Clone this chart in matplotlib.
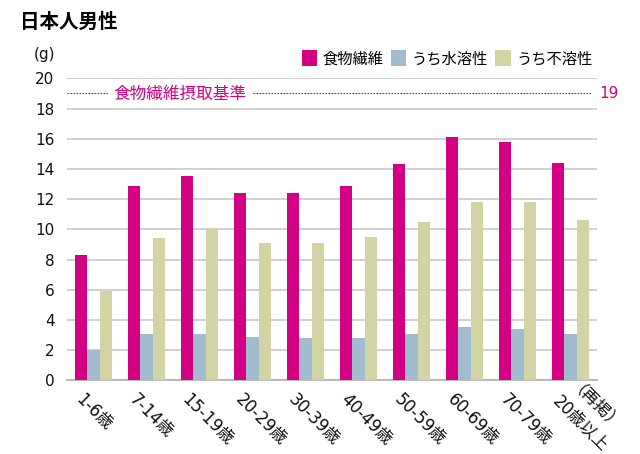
import matplotlib
matplotlib.use("Agg")
import matplotlib.pyplot as plt
import matplotlib.transforms as mtransforms
import numpy as np
from matplotlib.patches import Patch

plt.rcParams['font.family'] = ['DejaVu Sans', 'Noto Sans CJK JP']

categories = ['1-6歳', '7-14歳', '15-19歳', '20-29歳', '30-39歳', '40-49歳',
              '50-59歳', '60-69歳', '70-79歳', '（再掲）\n20歳以上']
total_fiber = [8.3, 12.9, 13.5, 12.4, 12.4, 12.9, 14.3, 16.1, 15.8, 14.4]
soluble = [2.0, 3.1, 3.1, 2.9, 2.8, 2.8, 3.1, 3.5, 3.4, 3.1]
insoluble = [5.9, 9.4, 10.0, 9.1, 9.1, 9.5, 10.5, 11.8, 11.8, 10.6]
series_names = ['食物繊維', 'うち水溶性', 'うち不溶性']
target_value = 19
target_label = '食物繊維摂取基準'
yticks = [0, 2, 4, 6, 8, 10, 12, 14, 16, 18, 20]

colors = ['#D40083', '#A2BCCF', '#D3D4A6']
magenta = colors[0]

fig = plt.figure(figsize=(6.4, 4.54), dpi=100)
ax = fig.add_axes([0.1047, 0.1623, 0.8281, 0.6652])

x = np.arange(len(categories))
w = 0.236
for i, (vals, c) in enumerate(zip([total_fiber, soluble, insoluble], colors)):
    ax.bar(x + (i - 1) * w, vals, width=w, color=c, zorder=3, linewidth=0)

ax.set_xlim(-0.5, len(categories) - 0.5)
ax.set_ylim(0, 20)
ax.set_yticks(yticks)
ax.set_yticklabels([str(v) for v in yticks], fontsize=11)
ax.yaxis.grid(True, color='#C8C8C8', linewidth=1.2, zorder=0)
ax.set_axisbelow(True)
for s in ['top', 'right', 'left']:
    ax.spines[s].set_visible(False)
ax.spines['bottom'].set_color('#B0B0B0')
ax.spines['bottom'].set_linewidth(1.2)
ax.tick_params(axis='y', length=0, pad=9, colors='#111111')
ax.tick_params(axis='x', length=0)

ax.set_xticks(x)
ax.set_xticklabels(categories, rotation=-45, ha='left', va='top',
                   rotation_mode='anchor', fontsize=12, linespacing=1.0,
                   multialignment='center', color='#111111')
offset = mtransforms.ScaledTranslation(-6 / 72, -4 / 72, fig.dpi_scale_trans)
extra = mtransforms.ScaledTranslation(8.5 / 72, 8.5 / 72, fig.dpi_scale_trans)
labels = ax.get_xticklabels()
for k, lbl in enumerate(labels):
    t = lbl.get_transform() + offset
    if '\n' in categories[k]:
        t = t + extra
    lbl.set_transform(t)

# reference line
ax.axhline(target_value, color=magenta, linestyle=(0, (1.5, 1.2)), linewidth=0.8,
           xmin=0, xmax=0.99, zorder=4)
ax.text(1.63, target_value, target_label, color=magenta, fontsize=12,
        ha='center', va='center', zorder=5,
        bbox=dict(facecolor='white', edgecolor='none', pad=4))
ax.text(1.005, target_value, str(target_value), color=magenta, fontsize=11,
        ha='left', va='center', transform=ax.get_yaxis_transform())

fig.text(0.032, 0.950, '日本人男性', fontsize=14, fontweight='bold', ha='left', va='center')
fig.text(0.052, 0.879, '(g)', fontsize=11, ha='left', va='center', color='#111111')

handles = [Patch(facecolor=c, edgecolor='none') for c in colors]
fig.legend(handles, series_names, loc='center right', bbox_to_anchor=(0.935, 0.872),
           ncol=3, frameon=False, fontsize=11, handlelength=1.0, handleheight=1.3,
           handletextpad=0.35, columnspacing=0.5, borderaxespad=0)

fig.savefig('out.png', dpi=100)
